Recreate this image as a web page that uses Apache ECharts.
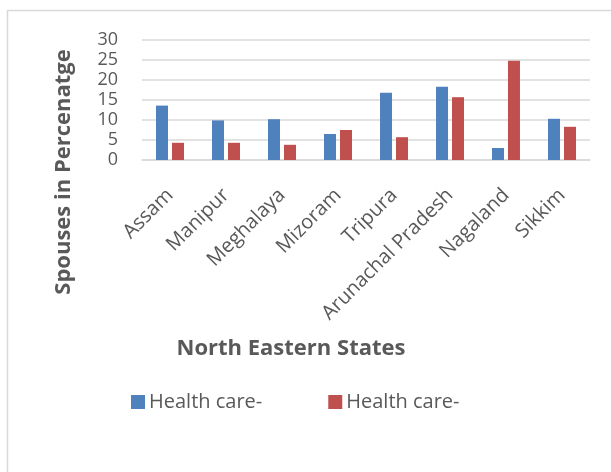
<!DOCTYPE html>
<html><head><meta charset="utf-8">
<script src="https://cdn.jsdelivr.net/npm/echarts@6/dist/echarts.min.js"></script>
<style>html,body{margin:0;padding:0;background:#fff}#c{width:611px;height:472px}</style>
</head><body><div id="c"></div>
<script>
const categories = ["Assam","Manipur","Meghalaya","Mizoram","Tripura","Arunachal Pradesh","Nagaland","Sikkim"];
const series1 = [13.6, 9.9, 10.2, 6.5, 16.8, 18.3, 3.0, 10.3];
const series2 = [4.3, 4.3, 3.8, 7.5, 5.7, 15.7, 24.8, 8.3];
const seriesNames = ["Health care-", "Health care- "];
const yTicks = {min: 0, max: 30, interval: 5};
const FONT = "Open Sans";
const chart = echarts.init(document.getElementById('c'));
chart.setOption({
  animation: false,
  textStyle: {fontFamily: FONT},
  graphic: [{type:'rect', shape:{x:7.5,y:10.5,width:700,height:600}, style:{fill:'none',stroke:'#d9d9d9',lineWidth:1.5}, silent:true}],
  grid: {left:142, right:21, top:40, bottom:312, containLabel:false},
  legend: {
    left: 126, top: 387, itemWidth: 14, itemHeight: 14, itemGap: 66,
    icon: 'rect',
    textStyle: {fontFamily: FONT, fontSize: 20, color: '#595959', padding:[0,0,0,-1]},
    data: seriesNames
  },
  xAxis: {
    type: 'category', data: categories,
    name: 'North Eastern States', nameLocation: 'middle', nameGap: 178,
    nameTextStyle: {fontFamily: FONT, fontSize: 22, fontWeight: 'bold', color: '#595959', padding:[0,150,0,0]},
    axisTick: {show: false},
    axisLine: {lineStyle: {color: '#d9d9d9', width: 1.5}},
    axisLabel: {rotate: 45, interval: 0, margin: 32, fontFamily: FONT, fontSize: 20, color: '#595959'}
  },
  yAxis: {
    type: 'value', min: yTicks.min, max: yTicks.max, interval: yTicks.interval,
    name: 'Spouses in Percenatge', nameLocation: 'middle', nameGap: 67,
    nameTextStyle: {fontFamily: FONT, fontSize: 22, fontWeight: 'bold', color: '#595959', padding:[0,144,0,0]},
    axisLabel: {margin: 24, fontFamily: FONT, fontSize: 18, color: '#595959'},
    splitLine: {lineStyle: {color: '#d9d9d9', width: 1.5}},
    axisLine: {show: false}, axisTick: {show: false}
  },
  series: [
    {name: seriesNames[0], type: 'bar', data: series1, barWidth: 12, barGap: '33%', itemStyle: {color: '#4f81bd'}},
    {name: seriesNames[1], type: 'bar', data: series2, barWidth: 12, itemStyle: {color: '#c0504d'}}
  ]
});
</script></body></html>
